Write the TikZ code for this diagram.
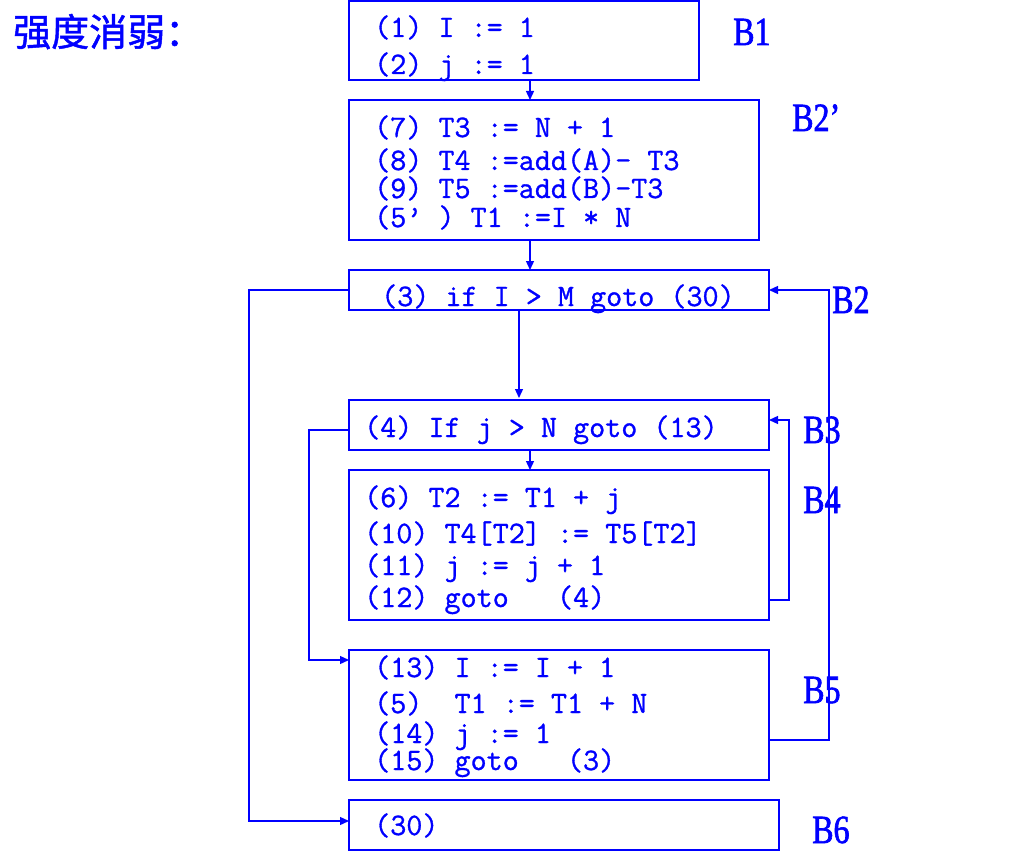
\documentclass[tikz,border=0pt]{standalone}
\usepackage{fontspec}
\usetikzlibrary{arrows.meta}
\newfontfamily\cjk{Noto Sans CJK SC}[FakeBold=1.2]
\newfontfamily\codefont{Latin Modern Mono}[FakeBold=1.0]
\newfontfamily\labfont{Liberation Serif}[FakeStretch=0.8,FakeBold=1.6]
\definecolor{dblue}{RGB}{0,0,255}
\tikzset{
  box/.style={draw=dblue, line width=1.4pt, anchor=north west, inner sep=0pt, outer sep=0pt},
  code/.style={anchor=base west, inner sep=0pt, text=dblue, font=\codefont\fontsize{31.2}{31.2}\selectfont},
  lab/.style={anchor=base west, inner sep=0pt, text=dblue, font=\labfont\fontsize{40}{40}\selectfont},
  conn/.style={draw=dblue, line width=1.3pt},
  arr/.style={conn, -{Triangle[length=9pt,width=8pt]}},
}
\begin{document}
\begin{tikzpicture}[x=1pt,y=-1pt]
\useasboundingbox (0,0) rectangle (1020,861);
% title
\node[anchor=base west, inner sep=0pt, text=dblue, font=\cjk\fontsize{38}{38}\selectfont] (title) at (13,46) {强度消弱：};
% boxes
\node[box, minimum width=350pt, minimum height=79pt] (nB1) at (349,1) {};
\node[box, minimum width=410pt, minimum height=140pt] (nB2p) at (349,100) {};
\node[box, minimum width=420pt, minimum height=40pt] (nB2) at (349,270) {};
\node[box, minimum width=420pt, minimum height=50pt] (nB3) at (349,400) {};
\node[box, minimum width=420pt, minimum height=150pt] (nB4) at (349,470) {};
\node[box, minimum width=420pt, minimum height=130pt] (nB5) at (349,650) {};
\node[box, minimum width=430pt, minimum height=50pt] (nB6) at (349,800) {};
% code text
\node[code] (c1) at (374,37) {(1) I := 1};
\node[code] (c2) at (374,74) {(2) j := 1};
\node[code] (c7) at (374,137) {(7) T3 := N + 1};
\node[code] (c8) at (374,170) {(8) T4 :=add(A)- T3};
\node[code] (c9) at (374,198) {(9) T5 :=add(B)-T3};
\node[code] (c5p) at (374,227) {(5’ ) T1 :=I * N};
\node[code] (c3) at (381,306) {(3) if I > M goto (30)};
\node[code] (c4) at (364,437) {(4) If j > N goto (13)};
\node[code] (c6) at (364,507) {(6) T2 := T1 + j};
\node[code] (c10) at (364,543) {(10) T4[T2] := T5[T2]};
\node[code] (c11) at (364,575) {(11) j := j + 1};
\node[code] (c12) at (364,607) {(12) goto~~~(4)};
\node[code] (c13) at (374,677) {(13) I := I + 1};
\node[code] (c5) at (374,713) {(5)~~T1 := T1 + N};
\node[code] (c14) at (374,743) {(14) j := 1};
\node[code] (c15) at (374,770) {(15) goto~~~(3)};
\node[code] (c30) at (374,835) {(30)};
% labels
\node[lab] (lB1) at (733,45) {B1};
\node[lab] (lB2p) at (792,131) {B2’};
\node[lab] (lB2) at (832,313) {B2};
\node[lab] (lB3) at (803,443) {B3};
\node[lab] (lB4) at (803,513) {B4};
\node[lab] (lB5) at (803,703) {B5};
\node[lab] (lB6) at (812,843) {B6};
% connectors
\coordinate (xa) at (530,0);
\coordinate (xb) at (519,0);
\draw[arr] (nB1.south -| xa) -- (nB2p.north -| xa);
\draw[arr] (nB2p.south -| xa) -- (nB2.north -| xa);
\draw[arr] (nB2.south -| xb) -- ([yshift=2pt]nB3.north -| xb);
\draw[arr] (nB3.south -| xa) -- (nB4.north -| xa);
\draw[arr] (nB2.west) -- ++(-100,0) |- ([yshift=4pt]nB6.west);
\draw[arr] ([yshift=-5pt]nB3.west) -- ++(-40,0) |- ([yshift=-10pt]nB5.north west);
\draw[arr] ([yshift=20pt]nB4.south east) -- ++(20,0) |- ([yshift=-20pt]nB3.north east);
\draw[arr] ([yshift=40pt]nB5.south east) -- ++(60,0) |- (nB2.east);
\end{tikzpicture}
\end{document}
